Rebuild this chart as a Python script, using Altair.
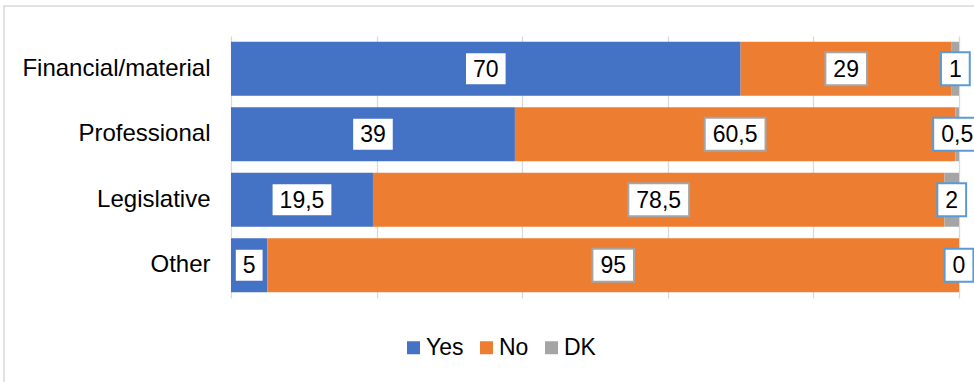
import altair as alt
import pandas as pd

categories = ["Financial/material", "Professional", "Legislative", "Other"]
series = ["Yes", "No", "DK"]
yes_vals = [70, 39, 19.5, 5]
no_vals = [29, 60.5, 78.5, 95]
dk_vals = [1, 0.5, 2, 0]
bar_colors = ["#4472C4", "#ED7D31", "#A5A5A5"]
label_box_strokes = ["#4472C4", "#A5A5A5", "#5B9BD5"]
grid_ticks = [0, 20, 40, 60, 80, 100]

FONT = "Liberation Sans"
FS = 23

rows = []
for i, cat in enumerate(categories):
    start = 0.0
    for s, vals in zip(series, [yes_vals, no_vals, dk_vals]):
        v = vals[i]
        label = (f"{v:g}").replace(".", ",")
        ndig = sum(ch.isdigit() for ch in label)
        ncom = label.count(",")
        rows.append({
            "category": cat, "series": s, "value": v,
            "start": start, "end": start + v, "mid": start + v / 2,
            "label": label, "boxkey": f"{ndig}-{ncom}",
        })
        start += v
df = pd.DataFrame(rows)

# label box shapes (custom symbol paths, width depends on label length)
H = 33.0
keys = sorted(df["boxkey"].unique())
paths = []
for k in keys:
    nd, nc = map(int, k.split("-"))
    W = 12.8 * nd + 6.4 * nc + 16
    a = W / H
    paths.append(f"M{-a:.4f},-1L{a:.4f},-1L{a:.4f},1L{-a:.4f},1Z")

y_enc = alt.Y("category:N", sort=categories, title=None,
              scale=alt.Scale(paddingInner=0.176, paddingOuter=0.088),
              axis=alt.Axis(ticks=False, domain=False, labelPadding=21,
                            labelFontSize=24, labelFont=FONT, labelColor="#000000",
                            labelLimit=0, grid=False))

x_scale = alt.Scale(domain=[0, 100], nice=False, zero=True)

bars = alt.Chart(df).mark_bar(opacity=1).encode(
    x=alt.X("start:Q", scale=x_scale, title=None,
            axis=alt.Axis(values=grid_ticks, labels=False, ticks=False, domain=False,
                          grid=True, gridColor="#D9D9D9", gridWidth=1.3)),
    x2="end:Q",
    y=y_enc,
    color=alt.Color("series:N", sort=series,
                    scale=alt.Scale(domain=series, range=bar_colors),
                    legend=alt.Legend(title=None, orient="none", direction="horizontal",
                                      legendX=171, legendY=300,
                                      symbolType="square", symbolSize=169,
                                      symbolStrokeWidth=0, labelFontSize=23,
                                      labelFont=FONT, labelColor="#000000",
                                      labelOffset=1, columnPadding=11)),
    order=alt.Order("start:Q"),
)

boxes = alt.Chart(df).mark_point(filled=False, fill="white", fillOpacity=1,
                                 strokeWidth=2, opacity=1, size=H * H).encode(
    x=alt.X("mid:Q", scale=x_scale),
    y=alt.Y("category:N", sort=categories),
    shape=alt.Shape("boxkey:N", scale=alt.Scale(domain=keys, range=paths), legend=None),
    stroke=alt.Stroke("series:N", scale=alt.Scale(domain=series, range=label_box_strokes),
                      legend=None),
)

texts = alt.Chart(df).mark_text(font=FONT, fontSize=FS, color="#000000",
                                baseline="middle", align="center", dy=1).encode(
    x=alt.X("mid:Q", scale=x_scale),
    y=alt.Y("category:N", sort=categories),
    text="label:N",
)

frame = alt.Chart(pd.DataFrame({"a": [0]})).mark_rect(
    fill=None, stroke="#D9D9D9", strokeWidth=1.5).encode(
    x=alt.value(-227), x2=alt.value(800), y=alt.value(-30), y2=alt.value(400)
)

chart = alt.layer(frame, bars, boxes, texts).properties(
    width=728, height=262,
    autosize=alt.AutoSizeParams(type="none"),
    padding={"left": 231, "top": 36, "right": 15, "bottom": 84},
    background="white",
).configure_view(stroke=None)

chart.save("out.html", embed_options={"renderer": "svg", "actions": False})
